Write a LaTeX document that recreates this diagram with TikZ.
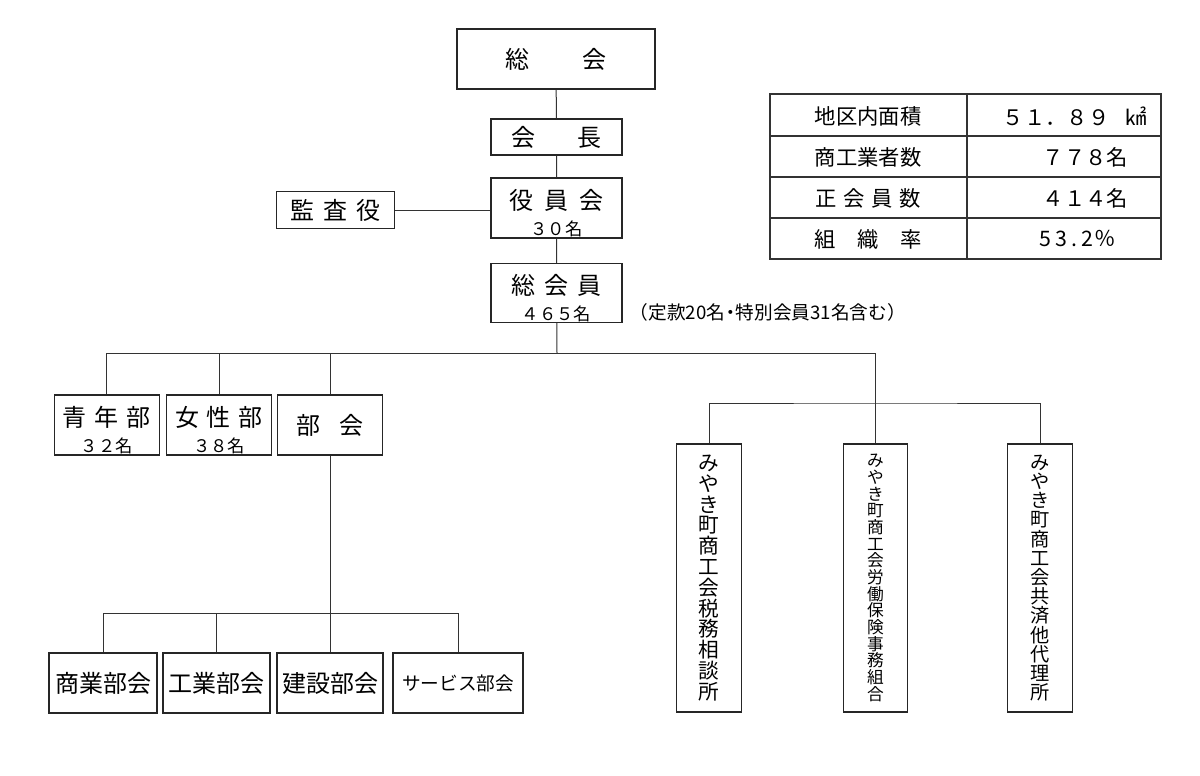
\documentclass[tikz,border=0pt]{standalone}
\usepackage{fontspec}
\newfontfamily\jp{Noto Sans CJK JP}

\def\hd{\rule{0pt}{23pt}}
\def\cnt#1{{\fontsize{13}{20}\selectfont #1}}

\begin{document}
\begin{tikzpicture}
    [ x=.75pt, y=-.75pt,
      font={\jp},
      box/.style={draw=black!85, line width=.8pt, inner sep=0pt, fill=white},
      big/.style={font={\jp\fontsize{18}{20}\selectfont}},
      mid/.style={font={\jp\fontsize{16}{18}\selectfont}},
      small/.style={font={\jp\fontsize{14}{16}\selectfont}},
      unit/.style={box, big, align=center, minimum width=79pt, minimum height=45pt},
      vbox/.style={box, align=center, minimum width=48.5pt, minimum height=201pt},
      wire/.style={draw=black!80, line width=.75pt},
      grid/.style={draw=black!80, line width=.8pt}
    ]
    \useasboundingbox (0,0) rectangle (1200,775);

    % Top chain
    \node[box, big, line width=1.3pt, minimum width=148.5pt, minimum height=45pt]
        (soukai) at (556,59) {総\hspace{39.75pt}会};
    \node[box, big, minimum width=98.25pt, minimum height=27pt]
        (kaicho) at (556.5,137) {会\hspace{31.5pt}長};
    \node[box, big, align=center, minimum width=98.25pt, minimum height=45pt]
        (yakuin) at (556.5,208) {\hd 役\hspace{8pt}員\hspace{8pt}会\\\cnt{３０名}};
    \node[box, big, align=center, minimum width=98.25pt, minimum height=44.25pt]
        (soukaiin) at (556.5,293) {\hd 総\hspace{7pt}会\hspace{7pt}員\\\cnt{４６５名}};
    \node[box, big, minimum width=88.5pt, minimum height=27.75pt]
        (kansa) at (335.5,210) {監\hspace{7pt}査\hspace{7pt}役};
    \node[anchor=west, font={\jp\fontsize{14}{16}\selectfont}]
        (note) at (625,312) {（定款20名\kern-3pt・\kern-3pt 特別会員31名含む）};

    % Sections
    \node[unit] (seinen) at (106.7,425) {\hd 青\hspace{6pt}年\hspace{6pt}部\\\cnt{３２名}};
    \node[unit] (josei) at (219,425) {\hd 女\hspace{6pt}性\hspace{6pt}部\\\cnt{３８名}};
    \node[unit] (bukai) at (330,425) {部\hspace{14pt}会};

    % Trade groups
    \node[unit, minimum width=81pt] (shogyo) at (103,683) {商業部会};
    \node[unit, minimum width=80.25pt] (kogyo) at (216.5,683) {工業部会};
    \node[unit, minimum width=79.5pt] (kensetsu) at (330,683) {建設部会};
    \node[unit, small, minimum width=97.5pt] (service) at (458,683) {サービス部会};

    % Offices
    \node[vbox, font={\jp\fontsize{15.5}{15.6}\selectfont}] (zeimu) at (709,578)
        {み\\や\\き\\町\\商\\工\\会\\税\\務\\相\\談\\所};
    \node[vbox, font={\jp\fontsize{12.5}{12.5}\selectfont}] (roudou) at (875.5,578)
        {み\\や\\き\\町\\商\\工\\会\\労\\働\\保\\険\\事\\務\\組\\合};
    \node[vbox, font={\jp\fontsize{14.4}{14.4}\selectfont}] (kyosai) at (1040,578)
        {み\\や\\き\\町\\商\\工\\会\\共\\済\\他\\代\\理\\所};

    % Connectors
    \coordinate (bus) at (557,353);
    \coordinate (sub) at (876,403);
    \coordinate (bukaibus) at (330,613);
    \draw[wire] (soukai) -- (kaicho) -- (yakuin) -- (soukaiin);
    \draw[wire] (kansa.east) -- (kansa.east -| yakuin.west);
    \draw[wire] (soukaiin) -- (bus);
    \foreach \b in {seinen, josei, bukai} {
        \draw[wire] (\b) |- (bus);
    }
    \draw[wire] (bus) -| (roudou);
    \draw[wire] (zeimu) |- (sub) -| (kyosai);
    \draw[wire] (bukai) -- (bukaibus);
    \foreach \b in {shogyo, kogyo, kensetsu, service} {
        \draw[wire] (\b) |- (bukaibus);
    }

    % Table
    \draw[grid] (770,94) rectangle (1161,259);
    \foreach \y in {136, 177, 218} {
        \draw[grid] (770,\y) -- (1161,\y);
    }
    \draw[grid] (967,94) -- (967,259);
    \node[mid] (area) at (868,116) {地区内面積};
    \node[mid] (firms) at (868,157) {商工業者数};
    \node[mid] (members) at (868,198) {正\hspace{5pt}会\hspace{5pt}員\hspace{5pt}数};
    \node[mid] (rate) at (868,239) {組\hspace{16pt}織\hspace{16pt}率};
    \node[mid, anchor=west] (areaval) at (998,116) {５１．８９\hspace{12pt}㎢};
    \node[mid, anchor=west] (firmsval) at (1038,157) {７７８名};
    \node[mid, anchor=west] (membersval) at (1038,198) {４１４名};
    \node[mid, anchor=west] (rateval) at (1035,239) {5\kern3pt 3\kern3pt .\kern3pt 2\kern1pt ％};

\end{tikzpicture}
\end{document}
